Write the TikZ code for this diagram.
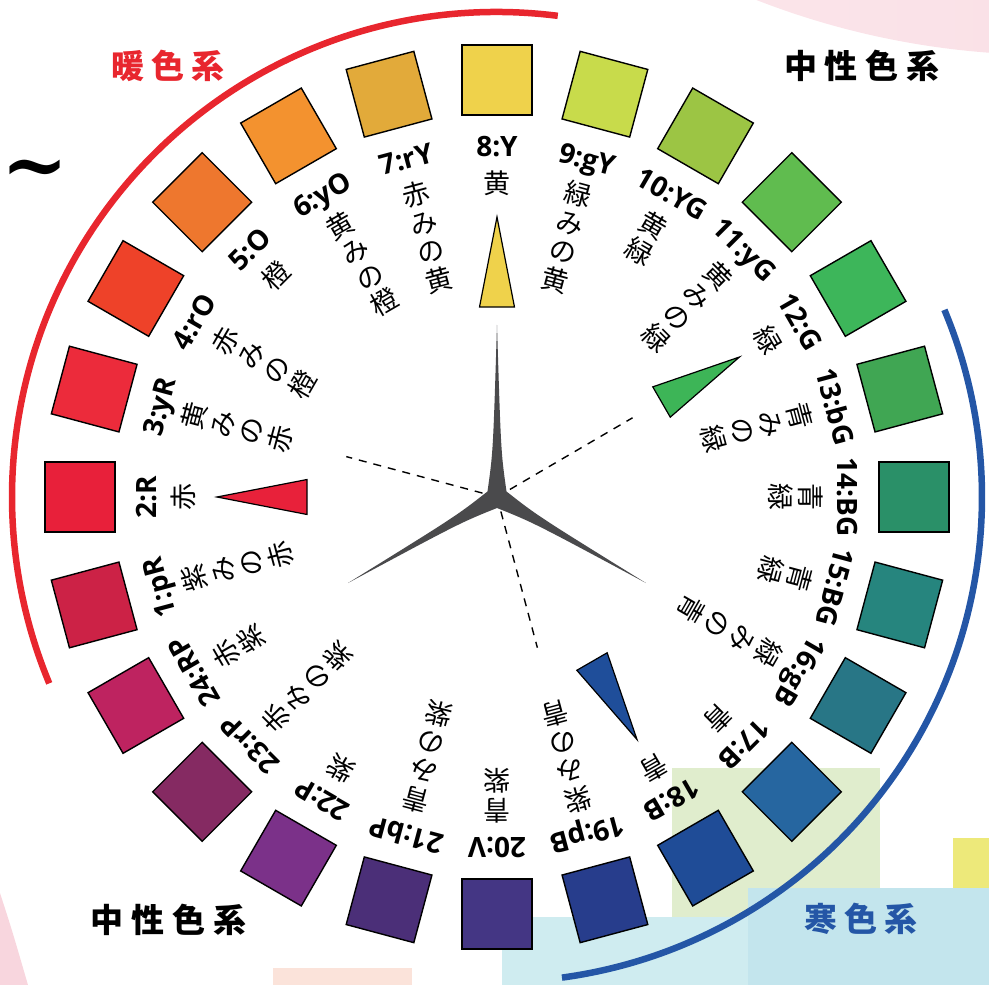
\documentclass[tikz,border=0pt]{standalone}
\usepackage{fontspec}
\newfontfamily\jpfont{Noto Sans CJK JP}
\newfontfamily\codefont{Open Sans}
\newfontfamily\tildefont{DejaVu Serif}
\definecolor{warmred}{HTML}{E8262E}
\definecolor{coolblue}{HTML}{2456A6}
\definecolor{stargray}{HTML}{4A4A4C}
\definecolor{bgpink}{HTML}{F8D6DE}
\definecolor{bgpinkl}{HTML}{FCEBEF}
\definecolor{bggreen}{HTML}{E0EDCD}
\definecolor{bgblue}{HTML}{C3E5ED}
\definecolor{bgcyan}{HTML}{CFECF0}
\definecolor{bgyellow}{HTML}{EDE97A}
\definecolor{bgpeach}{HTML}{FBE3DA}
\tikzset{
  sqbox/.style={draw=black, line width=1.4bp, minimum size=70bp, inner sep=0pt, shape=rectangle},
  codelab/.style={font={\codefont\bfseries\fontsize{28bp}{30bp}\selectfont}, inner sep=0pt},
  jplab/.style={font={\jpfont\fontsize{27bp}{29.5bp}\selectfont}, inner sep=0pt, align=center, anchor=north},
  header/.style={font={\jpfont\bfseries\fontsize{33bp}{33bp}\selectfont}, inner sep=0pt},
  tri/.style={draw=black, line width=1.2bp},
  guide/.style={draw=black, line width=1.4bp, dash pattern=on 8bp off 7bp},
  bandarc/.style={line width=6.5bp}
}
\begin{document}
\begin{tikzpicture}[x=1bp,y=1bp]
\useasboundingbox (-497,-488) rectangle (492,497);
\clip (-497,-488) rectangle (492,497);
% background decorations (image pixel coordinates)
\begin{scope}[shift={(-497,497)}, yscale=-1]
  \shade[left color=bgpinkl, right color=bgpink] (1050,-753) circle[radius=808];
  \fill[bgpink] (0,893) .. controls (12,930) .. (28,985) -- (0,985) -- cycle;
  \fill[bggreen] (672,768) rectangle (880,940);
  \fill[bgcyan] (502,917) rectangle (748,985);
  \fill[bgblue] (748,888) rectangle (989,985);
  \fill[bgyellow] (953,838) rectangle (989,888);
  \fill[bgpeach] (273,968) rectangle (412,985);
\end{scope}
% warm / cool arcs
\draw[bandarc, warmred] (82.8:485) arc[start angle=82.8, end angle=202.6, radius=485];
\draw[bandarc, coolblue] (22.7:485) arc[start angle=22.7, end angle=-82.3, radius=485];
% headers
\node[header, text=warmred] (hwarm) at (-329,431) {暖\kern7bp 色\kern7bp 系};
\node[header, text=black] (hneu1) at (365,431) {中\kern8bp 性\kern8bp 色\kern8bp 系};
\node[header, text=black] (hneu2) at (-328,-423) {中\kern8bp 性\kern8bp 色\kern8bp 系};
\node[header, text=coolblue] (hcool) at (364,-422) {寒\kern7bp 色\kern7bp 系};
\node[font={\tildefont\bfseries\fontsize{80bp}{80bp}\selectfont}, inner sep=0pt, anchor=west] (tilde) at (-496,321) {\textasciitilde};
% dashed guides
\draw[guide] (165:15) -- (165:156);
\draw[guide] (30.3:15) -- (30.3:157);
\draw[guide] (-75:15) -- (-75:156);
% star
\fill[stargray] (90:172) .. controls (95:45) .. (150:11) .. controls (205:45) .. (210:172)
  .. controls (215:45) .. (270:11) .. controls (325:45) .. (330:172)
  .. controls (335:45) .. (30:11) .. controls (85:45) .. (90:172) -- cycle;
% triangles
\foreach \k/\col in {8/EFD24B, 2/E8213A, 12/3DB557, 18/1F4E9A}{
  \pgfmathsetmacro\ang{90+(8-\k)*15}
  \edef\tmp{\noexpand\definecolor{tricol}{HTML}{\col}}\tmp
  \fill[tricol] (\ang:280) -- (\ang+5.26:190.8) -- (\ang-5.26:190.8) -- cycle;
  \draw[tri] (\ang:280) -- (\ang+5.26:190.8) -- (\ang-5.26:190.8) -- cycle;
}
% hue squares and labels
\foreach \k/\code/\col/\name in {
  1/1:pR/CC2246/{紫\\み\\の\\赤},
  2/2:R/E8203A/{赤},
  3/3:yR/EC2B3B/{黄\\み\\の\\赤},
  4/4:rO/EE4229/{赤\\み\\の\\橙},
  5/5:O/EE772E/{橙},
  6/6:yO/F3922F/{黄\\み\\の\\橙},
  7/7:rY/E2AA3A/{赤\\み\\の\\黄},
  8/8:Y/EFD24B/{黄},
  9/9:gY/C8DB4B/{緑\\み\\の\\黄},
  10/10:YG/9CC544/{黄\\緑},
  11/11:yG/60BC4F/{黄\\み\\の\\緑},
  12/12:G/3DB65A/{緑},
  13/13:bG/40A653/{青\\み\\の\\緑},
  14/14:BG/2A9068/{青\\緑},
  15/15:BG/26857E/{青\\緑},
  16/16:gB/287686/{緑\\み\\の\\青},
  17/17:B/2666A0/{青},
  18/18:B/1F4C97/{青},
  19/19:pB/273D8C/{紫\\み\\の\\青},
  20/20:V/443684/{青\\紫},
  21/21:bP/4B2F78/{青\\み\\の\\紫},
  22/22:P/7B3189/{紫},
  23/23:rP/852A62/{赤\\み\\の\\紫},
  24/24:RP/BE2360/{赤\\紫}}{
  \pgfmathsetmacro\ang{90+(8-\k)*15}
  \edef\tmp{\noexpand\definecolor{sq}{HTML}{\col}}\tmp
  \node[sqbox, fill=sq, rotate=\ang-90] (sq\k) at (\ang:417) {};
  \node[codelab, rotate=\ang-90, anchor=base] (lab\k) at (\ang:340) {\code};
  \node[jplab, rotate=\ang-90] (nm\k) at (\ang:326) {\name};
}
\end{tikzpicture}
\end{document}
